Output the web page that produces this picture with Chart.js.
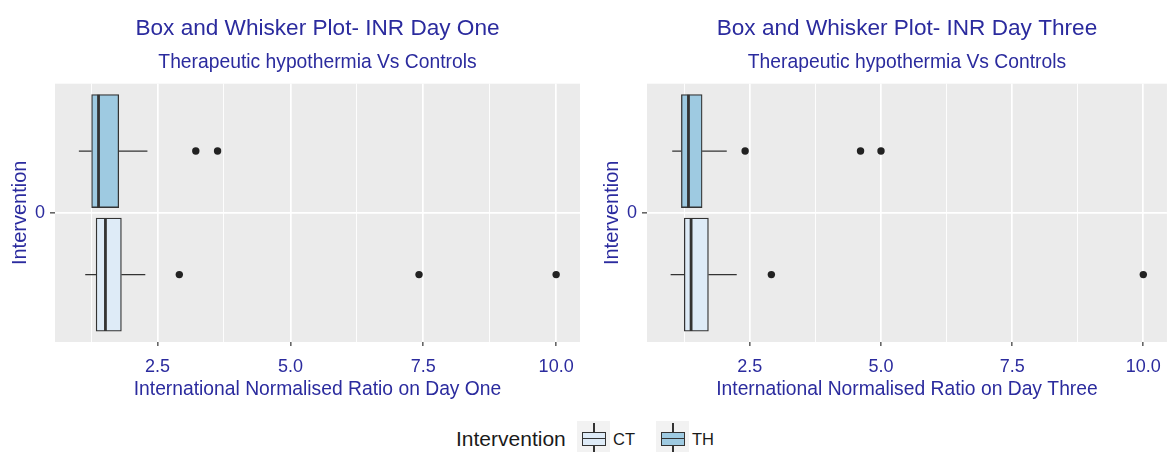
<!DOCTYPE html>
<html>
<head>
<meta charset="utf-8">
<script src="https://cdn.jsdelivr.net/npm/chart.js@4.4.1/dist/chart.umd.min.js"></script>
<style>
  body { margin: 0; background: #fff; width: 1171px; height: 452px; overflow: hidden; position: relative;
         font-family: "Liberation Sans", Arial, sans-serif; }
  .panel { position: absolute; top: 0; height: 410px; }
  #p1 { left: 0; width: 585px; }
  #p2 { left: 585px; width: 586px; }
  .lg { position: absolute; color: #1a1a1a; white-space: nowrap; }
  .ltitle { left: 456px; top: 427px; font-size: 21px; line-height: 24px; }
  .lab { top: 430px; font-size: 16.5px; line-height: 18px; }
  .key { top: 421px; width: 33px; height: 31px; background: #F2F2F2; }
  .key .box { position: absolute; left: 5px; top: 11px; width: 24px; height: 14px; box-sizing: border-box;
              border: 1.3px solid #333; }
  .key .med { position: absolute; left: 0; right: 0; top: 4.5px; height: 1.6px; background: #333; }
  .key .wt { position: absolute; left: 16.4px; width: 1.3px; top: 2px; height: 9px; background: #333; }
  .key .wb { position: absolute; left: 16.4px; width: 1.3px; top: 25px; height: 6px; background: #333; }
</style>
</head>
<body>
<div class="panel" id="p1"><canvas id="c1"></canvas></div>
<div class="panel" id="p2"><canvas id="c2"></canvas></div>

<div class="lg ltitle">Intervention</div>
<div class="lg key" style="left:577px"><div class="wt"></div><div class="box" style="background:#DEEBF7"><div class="med"></div></div><div class="wb"></div></div>
<div class="lg lab" style="left:613px">CT</div>
<div class="lg key" style="left:656px"><div class="wt"></div><div class="box" style="background:#9ECAE1"><div class="med"></div></div><div class="wb"></div></div>
<div class="lg lab" style="left:692px">TH</div>

<script>
// groups, bottom to top
var groups = ['CT', 'TH'];
var groupFill = ['#DEEBF7', '#9ECAE1'];

// Day One (CT, TH)
var dayOneLower = [1.14, 1.02];
var dayOneQ1 = [1.345, 1.26];
var dayOneMedian = [1.52, 1.39];
var dayOneQ3 = [1.82, 1.77];
var dayOneUpper = [2.27, 2.31];
var dayOneOutliers = [[2.91, 7.42, 10.0], [3.22, 3.63]];

// Day Three (CT, TH)
var dayThreeLower = [0.99, 1.02];
var dayThreeQ1 = [1.25, 1.195];
var dayThreeMedian = [1.38, 1.33];
var dayThreeQ3 = [1.71, 1.59];
var dayThreeUpper = [2.25, 2.06];
var dayThreeOutliers = [[2.91, 10.0], [2.41, 4.61, 5.0]];

var xTicks = [1.25, 2.5, 3.75, 5, 6.25, 7.5, 8.75, 10];
var xTickLabels = ['', '2.5', '', '5.0', '', '7.5', '', '10.0'];
var yTicks = [0];
var yTickLabels = ['0'];

var dodge = 0.287;   // half distance between the two boxes
var boxHalf = 0.262; // half box height, y units
var textBlue = '#2B2B9E';

Chart.defaults.font.family = '"Liberation Sans", Arial, sans-serif';
Chart.defaults.animation = false;

var panelBg = {
  id: 'panelBg',
  beforeDraw: function (chart) {
    var a = chart.chartArea, ctx = chart.ctx;
    ctx.save();
    ctx.fillStyle = '#EBEBEB';
    ctx.fillRect(a.left, a.top, a.right - a.left, a.bottom - a.top);
    ctx.restore();
  }
};

function makePanel(id, titleText, xTitleText, lower, q1, med, q3, upper, outliers, padLeft, padRight) {
  var ys = groups.map(function (g, i) { return i === 0 ? -dodge : dodge; });
  var all = lower.concat(upper);
  outliers.forEach(function (o) { all = all.concat(o); });
  var lo = Math.min.apply(null, all), hi = Math.max.apply(null, all);
  var ex = (hi - lo) * 0.05;

  var datasets = [];
  var pts = [];
  outliers.forEach(function (arr, i) {
    arr.forEach(function (v) { pts.push({ x: v, y: ys[i] }); });
  });
  datasets.push({
    type: 'scatter', data: pts, pointRadius: 3.7, pointBackgroundColor: '#222',
    pointBorderWidth: 0, order: 1
  });
  groups.forEach(function (g, i) {
    datasets.push({
      type: 'line', data: [{ x: med[i], y: ys[i] - boxHalf }, { x: med[i], y: ys[i] + boxHalf }],
      borderColor: '#333', borderWidth: 2.8, pointRadius: 0, borderCapStyle: 'butt', order: 0
    });
    datasets.push({
      type: 'line', data: [{ x: lower[i], y: ys[i] }, { x: q1[i], y: ys[i] }],
      borderColor: '#333', borderWidth: 1.3, pointRadius: 0, order: 3
    });
    datasets.push({
      type: 'line', data: [{ x: q3[i], y: ys[i] }, { x: upper[i], y: ys[i] }],
      borderColor: '#333', borderWidth: 1.3, pointRadius: 0, order: 3
    });
  });
  datasets.push({
    type: 'bar',
    data: groups.map(function (g, i) { return { x: [q1[i], q3[i]], y: ys[i] }; }),
    backgroundColor: groupFill, borderColor: '#333', borderWidth: 1.3, borderSkipped: false,
    barThickness: 113, grouped: false, order: 2
  });

  return new Chart(document.getElementById(id), {
    type: 'bar',
    data: { datasets: datasets },
    plugins: [panelBg],
    options: {
      indexAxis: 'y',
      responsive: true,
      maintainAspectRatio: false,
      layout: { padding: { left: padLeft, right: padRight, top: 0, bottom: 8 } },
      plugins: {
        legend: { display: false },
        tooltip: { enabled: false },
        title: {
          display: true, text: titleText, color: textBlue, fullSize: false,
          font: { size: 22.6, weight: 'normal' }, padding: { top: 15.5, bottom: 0 }
        },
        subtitle: {
          display: true, text: 'Therapeutic hypothermia Vs Controls', color: textBlue, fullSize: false,
          font: { size: 19.3, weight: 'normal' }, padding: { top: 8.6, bottom: 9.3 }
        }
      },
      scales: {
        x: {
          type: 'linear', min: lo - ex, max: hi + ex,
          afterBuildTicks: function (s) { s.ticks = xTicks.map(function (v) { return { value: v }; }); },
          afterFit: function (s) { s.height = 60; },
          ticks: {
            autoSkip: false, maxRotation: 0, color: textBlue, font: { size: 18 }, padding: 10,
            callback: function (v, i) { return xTickLabels[i]; }
          },
          grid: {
            color: '#FFFFFF',
            lineWidth: function (c) { return xTickLabels[c.index] ? 1.7 : 0.9; },
            tickColor: function (c) { return xTickLabels[c.index] ? '#333333' : 'rgba(0,0,0,0)'; },
            tickLength: 4, tickWidth: 1.2
          },
          border: { display: false },
          title: {
            display: true, text: xTitleText, color: textBlue,
            font: { size: 19.3 }, padding: { top: 0, bottom: 1 }
          }
        },
        y: {
          type: 'linear', min: -0.6, max: 0.6, offset: false,
          afterBuildTicks: function (s) { s.ticks = yTicks.map(function (v) { return { value: v }; }); },
          afterFit: function (s) { s.width = 55; },
          ticks: {
            color: textBlue, font: { size: 18 }, padding: 5,
            callback: function (v, i) { return yTickLabels[i]; }
          },
          grid: { offset: false, color: '#FFFFFF', lineWidth: 1.7, tickColor: '#333333', tickLength: 5, tickWidth: 1.2 },
          border: { display: false },
          title: {
            display: true, text: 'Intervention', color: textBlue,
            font: { size: 20 }, padding: { top: 8, bottom: 0 }
          }
        }
      }
    }
  });
}

makePanel('c1', 'Box and Whisker Plot- INR Day One', 'International Normalised Ratio on Day One',
  dayOneLower, dayOneQ1, dayOneMedian, dayOneQ3, dayOneUpper, dayOneOutliers, 0, 5);
makePanel('c2', 'Box and Whisker Plot- INR Day Three', 'International Normalised Ratio on Day Three',
  dayThreeLower, dayThreeQ1, dayThreeMedian, dayThreeQ3, dayThreeUpper, dayThreeOutliers, 7, 0);
</script>
</body>
</html>
